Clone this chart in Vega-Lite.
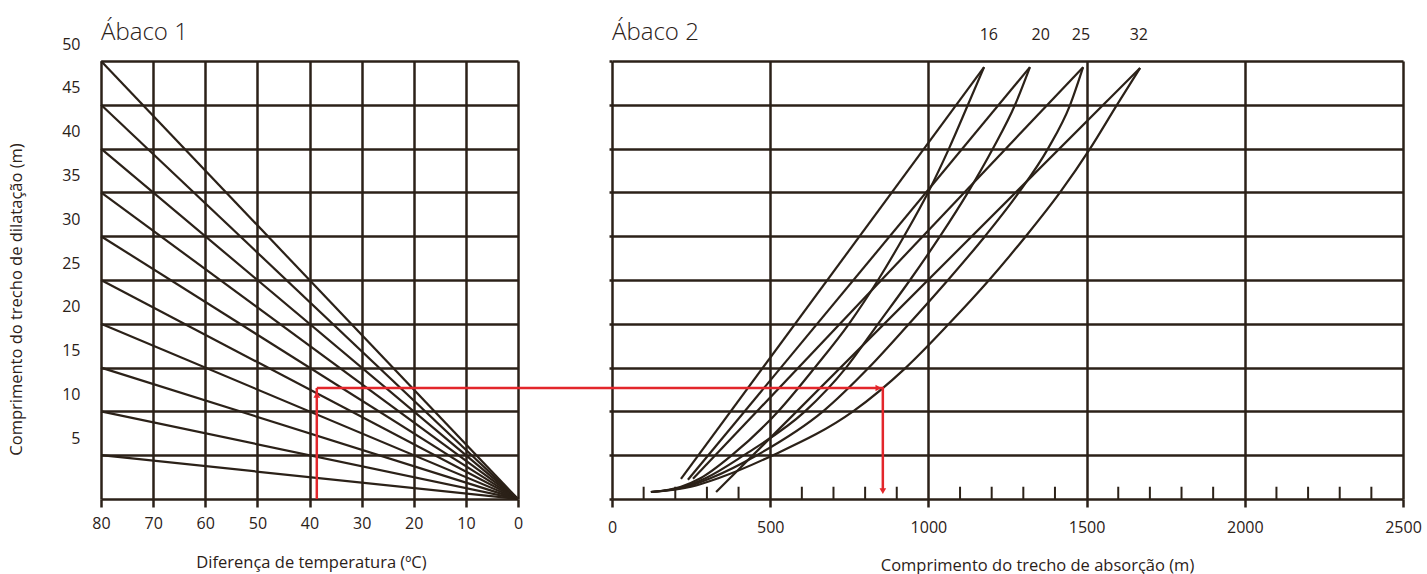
{
  "$schema": "https://vega.github.io/schema/vega-lite/v6.json",
  "background": "white",
  "padding": {"left": 7, "top": 21, "right": 5, "bottom": 5},
  "config": {
    "view": {"stroke": null},
    "font": "Open Sans",
    "axis": {
      "labelFont": "Open Sans", "labelFontSize": 16, "labelColor": "#2b2118",
      "titleFont": "Open Sans", "titleFontSize": 16.5, "titleFontWeight": "normal", "titleColor": "#2b2118",
      "gridColor": "#2b2118", "gridOpacity": 1, "gridWidth": 2.5,
      "tickColor": "#2b2118", "tickWidth": 2.5, "domainColor": "#2b2118", "domainWidth": 2.5
    },
    "title": {"font": "Open Sans", "fontSize": 24, "fontWeight": 300, "color": "#2b2118", "anchor": "start", "frame": "group"}
  },
  "datasets": {
    "diag": [
      {"k": 1, "t": 80, "len": 5}, {"k": 1, "t": 0, "len": 0},
      {"k": 2, "t": 80, "len": 10}, {"k": 2, "t": 0, "len": 0},
      {"k": 3, "t": 80, "len": 15}, {"k": 3, "t": 0, "len": 0},
      {"k": 4, "t": 80, "len": 20}, {"k": 4, "t": 0, "len": 0},
      {"k": 5, "t": 80, "len": 25}, {"k": 5, "t": 0, "len": 0},
      {"k": 6, "t": 80, "len": 30}, {"k": 6, "t": 0, "len": 0},
      {"k": 7, "t": 80, "len": 35}, {"k": 7, "t": 0, "len": 0},
      {"k": 8, "t": 80, "len": 40}, {"k": 8, "t": 0, "len": 0},
      {"k": 9, "t": 80, "len": 45}, {"k": 9, "t": 0, "len": 0},
      {"k": 10, "t": 80, "len": 50}, {"k": 10, "t": 0, "len": 0}
    ],
    "redLeft": [
      {"i": 1, "t": 38.6, "len": 0},
      {"i": 2, "t": 38.6, "len": 12.67}
    ],
    "arrowUp": [{"t": 38.6, "len": 11.9}],
    "curves": [
      {"s": "16c", "x": 123, "y": 0.8}, {"s": "16c", "x": 218, "y": 1.4}, {"s": "16c", "x": 281, "y": 2.4}, {"s": "16c", "x": 379, "y": 5}, {"s": "16c", "x": 525, "y": 10}, {"s": "16c", "x": 641, "y": 15}, {"s": "16c", "x": 749, "y": 20}, {"s": "16c", "x": 841, "y": 25}, {"s": "16c", "x": 923, "y": 30}, {"s": "16c", "x": 999, "y": 35}, {"s": "16c", "x": 1065, "y": 40}, {"s": "16c", "x": 1125, "y": 45}, {"s": "16c", "x": 1176, "y": 49.3},
      {"s": "20c", "x": 123, "y": 0.8}, {"s": "20c", "x": 228, "y": 1.4}, {"s": "20c", "x": 297, "y": 2.4}, {"s": "20c", "x": 417, "y": 5}, {"s": "20c", "x": 610, "y": 10}, {"s": "20c", "x": 740, "y": 15}, {"s": "20c", "x": 841, "y": 20}, {"s": "20c", "x": 942, "y": 25}, {"s": "20c", "x": 1037, "y": 30}, {"s": "20c", "x": 1125, "y": 35}, {"s": "20c", "x": 1204, "y": 40}, {"s": "20c", "x": 1274, "y": 45}, {"s": "20c", "x": 1321, "y": 49.3},
      {"s": "25c", "x": 123, "y": 0.8}, {"s": "25c", "x": 237, "y": 1.4}, {"s": "25c", "x": 313, "y": 2.4}, {"s": "25c", "x": 458, "y": 5}, {"s": "25c", "x": 667, "y": 10}, {"s": "25c", "x": 812, "y": 15}, {"s": "25c", "x": 939, "y": 20}, {"s": "25c", "x": 1062, "y": 25}, {"s": "25c", "x": 1179, "y": 30}, {"s": "25c", "x": 1286, "y": 35}, {"s": "25c", "x": 1378, "y": 40}, {"s": "25c", "x": 1448, "y": 45}, {"s": "25c", "x": 1489, "y": 49.3},
      {"s": "32c", "x": 123, "y": 0.8}, {"s": "32c", "x": 250, "y": 1.4}, {"s": "32c", "x": 338, "y": 2.4}, {"s": "32c", "x": 509, "y": 5}, {"s": "32c", "x": 762, "y": 10}, {"s": "32c", "x": 929, "y": 15}, {"s": "32c", "x": 1065, "y": 20}, {"s": "32c", "x": 1192, "y": 25}, {"s": "32c", "x": 1308, "y": 30}, {"s": "32c", "x": 1416, "y": 35}, {"s": "32c", "x": 1511, "y": 40}, {"s": "32c", "x": 1596, "y": 45}, {"s": "32c", "x": 1669, "y": 49.2},
      {"s": "16s", "x": 218, "y": 2.3}, {"s": "16s", "x": 1176, "y": 49.3},
      {"s": "20s", "x": 240, "y": 2.2}, {"s": "20s", "x": 1321, "y": 49.3},
      {"s": "25s", "x": 256, "y": 2.3}, {"s": "25s", "x": 1489, "y": 49.3},
      {"s": "32s", "x": 329, "y": 0.8}, {"s": "32s", "x": 1669, "y": 49.2}
    ],
    "labels": [
      {"d": "16", "x": 1191, "y": 49.3},
      {"d": "20", "x": 1355, "y": 49.3},
      {"d": "25", "x": 1482, "y": 49.3},
      {"d": "32", "x": 1665, "y": 49.3}
    ],
    "minorTicks": [
      {"x": 100}, {"x": 200}, {"x": 300}, {"x": 400},
      {"x": 600}, {"x": 700}, {"x": 800}, {"x": 900},
      {"x": 1100}, {"x": 1200}, {"x": 1300}, {"x": 1400},
      {"x": 1600}, {"x": 1700}, {"x": 1800}, {"x": 1900},
      {"x": 2100}, {"x": 2200}, {"x": 2300}, {"x": 2400}
    ],
    "redRight": [
      {"i": 1, "x": -933, "y": 12.67},
      {"i": 2, "x": 856, "y": 12.67},
      {"i": 3, "x": 856, "y": 1.0}
    ],
    "arrowRight": [{"x": 842, "y": 12.67}],
    "arrowDown": [{"x": 856, "y": 0.9}]
  },
  "bounds": "flush",
  "spacing": 94,
  "hconcat": [
    {
      "width": 417,
      "height": 438,
      "title": {"text": "Ábaco 1", "offset": -9},
      "layer": [
        {
          "data": {"name": "diag"},
          "mark": {"type": "line", "color": "#2b2118", "strokeWidth": 2.2},
          "encoding": {
            "x": {
              "field": "t", "type": "quantitative",
              "scale": {"domain": [0, 80], "reverse": true, "nice": false, "zero": false},
              "axis": {
                "values": [0, 10, 20, 30, 40, 50, 60, 70, 80],
                "title": "Diferença de temperatura (ºC)",
                "grid": true, "domain": false, "tickSize": 8, "labelPadding": 8,
                "labelFlush": false, "titleX": 210, "titleY": 55
              }
            },
            "y": {
              "field": "len", "type": "quantitative",
              "scale": {"domain": [0, 50], "nice": false},
              "axis": {
                "values": [0, 5, 10, 15, 20, 25, 30, 35, 40, 45, 50],
                "grid": true, "ticks": false, "domain": false,
                "labelExpr": "datum.value == 0 ? '' : datum.label",
                "labelOffset": -17, "labelPadding": 21, "labelFlush": false,
                "title": "Comprimento do trecho de dilatação (m)",
                "titleX": -77, "titleY": 238
              }
            },
            "detail": {"field": "k"}
          }
        },
        {
          "data": {"name": "redLeft"},
          "mark": {"type": "line", "color": "#e3262b", "strokeWidth": 2.5},
          "encoding": {
            "x": {"field": "t", "type": "quantitative"},
            "y": {"field": "len", "type": "quantitative"},
            "order": {"field": "i"}
          }
        },
        {
          "data": {"name": "arrowUp"},
          "mark": {"type": "point", "shape": "triangle-up", "filled": true, "color": "#e3262b", "size": 45, "opacity": 1},
          "encoding": {
            "x": {"field": "t", "type": "quantitative"},
            "y": {"field": "len", "type": "quantitative"}
          }
        }
      ]
    },
    {
      "width": 791,
      "height": 438,
      "title": {"text": "Ábaco 2", "offset": -18},
      "layer": [
        {
          "data": {"name": "minorTicks"},
          "mark": {"type": "rule", "color": "#2b2118", "strokeWidth": 2},
          "encoding": {
            "x": {
              "field": "x", "type": "quantitative",
              "scale": {"domain": [0, 2500], "nice": false, "zero": false},
              "axis": {
                "values": [0, 500, 1000, 1500, 2000, 2500],
                "format": "d",
                "title": "Comprimento do trecho de absorção (m)",
                "grid": true, "domain": false, "tickSize": 8, "labelPadding": 12,
                "labelFlush": false, "titleX": 425, "titleY": 58
              }
            },
            "y": {
              "datum": 0, "type": "quantitative",
              "scale": {"domain": [0, 50], "nice": false},
              "axis": {
                "values": [0, 5, 10, 15, 20, 25, 30, 35, 40, 45, 50],
                "grid": true, "labels": false, "ticks": true, "tickSize": 3, "domain": false, "title": null
              }
            },
            "y2": {"datum": 1.4}
          }
        },
        {
          "data": {"name": "curves"},
          "mark": {"type": "line", "color": "#2b2118", "strokeWidth": 2.2, "interpolate": "monotone"},
          "encoding": {
            "x": {"field": "x", "type": "quantitative"},
            "y": {"field": "y", "type": "quantitative"},
            "detail": {"field": "s"}
          }
        },
        {
          "data": {"name": "labels"},
          "mark": {"type": "text", "dy": -32, "fontSize": 16, "font": "Open Sans", "color": "#2b2118"},
          "encoding": {
            "x": {"field": "x", "type": "quantitative"},
            "y": {"field": "y", "type": "quantitative"},
            "text": {"field": "d"}
          }
        },
        {
          "data": {"name": "redRight"},
          "mark": {"type": "line", "color": "#e3262b", "strokeWidth": 2.5},
          "encoding": {
            "x": {"field": "x", "type": "quantitative"},
            "y": {"field": "y", "type": "quantitative"},
            "order": {"field": "i"}
          }
        },
        {
          "data": {"name": "arrowRight"},
          "mark": {"type": "point", "shape": "triangle-right", "filled": true, "color": "#e3262b", "size": 45, "opacity": 1},
          "encoding": {
            "x": {"field": "x", "type": "quantitative"},
            "y": {"field": "y", "type": "quantitative"}
          }
        },
        {
          "data": {"name": "arrowDown"},
          "mark": {"type": "point", "shape": "triangle-down", "filled": true, "color": "#e3262b", "size": 45, "opacity": 1},
          "encoding": {
            "x": {"field": "x", "type": "quantitative"},
            "y": {"field": "y", "type": "quantitative"}
          }
        }
      ]
    }
  ]
}
